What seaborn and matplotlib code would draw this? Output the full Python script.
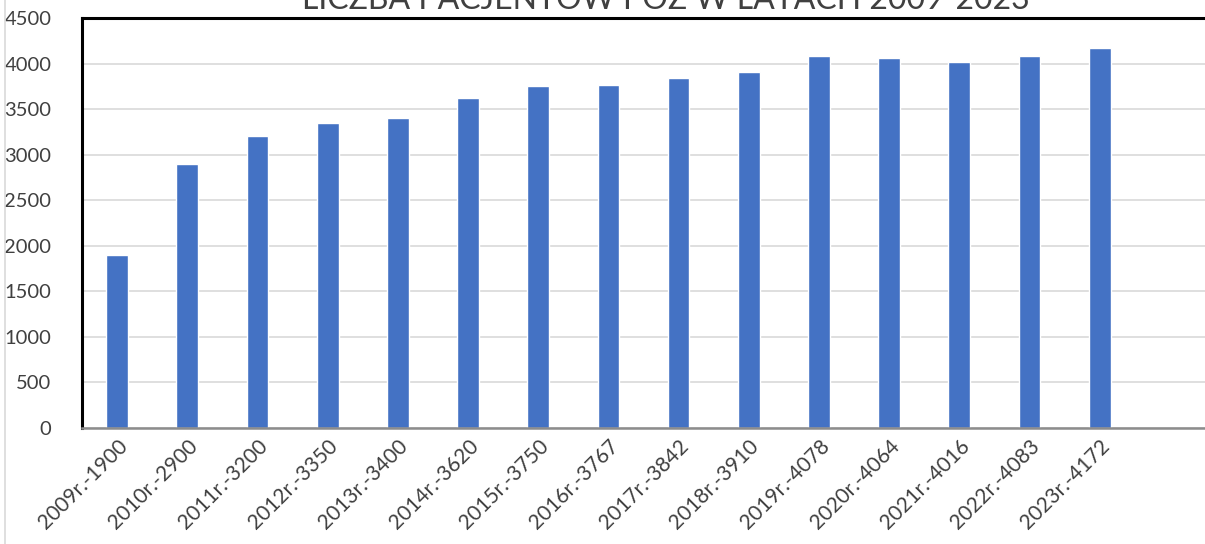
import numpy as np
import pandas as pd
import matplotlib
matplotlib.use("Agg")
import matplotlib.pyplot as plt
import seaborn as sns
from matplotlib.lines import Line2D

years = ["2009", "2010", "2011", "2012", "2013", "2014", "2015", "2016",
         "2017", "2018", "2019", "2020", "2021", "2022", "2023"]
patients = [1900, 2900, 3200, 3350, 3400, 3620, 3750, 3767,
            3842, 3910, 4078, 4064, 4016, 4083, 4172]
labels = [f"{y}r.-{p}" for y, p in zip(years, patients)]
title = "LICZBA PACJENTÓW POZ W LATACH 2009-2023"

sns.set_style("white")
plt.rcParams["font.family"] = ["Lato", "DejaVu Sans"]

df = pd.DataFrame({"label": labels, "patients": patients})

fig = plt.figure(figsize=(12.05, 5.44), dpi=100)
ax = fig.add_axes([82 / 1205, 1 - 428 / 544, 1 - 82 / 1205, 410 / 544])

# extra empty slot at the end, like the excel chart
sns.barplot(data=df, x="label", y="patients", order=labels + [" "],
            color="#4472C4", saturation=1, width=0.31, ax=ax)

ax.set_ylim(0, 4500)
ax.set_xlim(-0.5, 15.5)
ax.set_yticks(range(0, 4501, 500))
ax.set_xlabel("")
ax.set_ylabel("")
ax.yaxis.grid(True, color="#d9d9d9", lw=1.2)
ax.set_axisbelow(True)

for s in ["top", "left"]:
    ax.spines[s].set_color("black")
    ax.spines[s].set_linewidth(2.2)
ax.spines["bottom"].set_color("#8c8c8c")
ax.spines["bottom"].set_linewidth(1.8)
ax.spines["right"].set_visible(False)

ax.tick_params(axis="y", length=0, pad=22, labelsize=14.5, labelcolor="#404040")
ax.tick_params(axis="x", length=0, pad=6, labelsize=15, labelcolor="#404040")
plt.setp(ax.get_xticklabels(), rotation=45, ha="right", rotation_mode="anchor")

fig.text(666 / 1205, 1 - 9 / 544, title, ha="center", va="baseline",
         fontsize=23, color="#404040")
fig.add_artist(Line2D([5 / 1205, 5 / 1205], [0, 1], color="#d9d9d9", lw=1.2,
                      transform=fig.transFigure))

fig.savefig("out.png", dpi=100)
